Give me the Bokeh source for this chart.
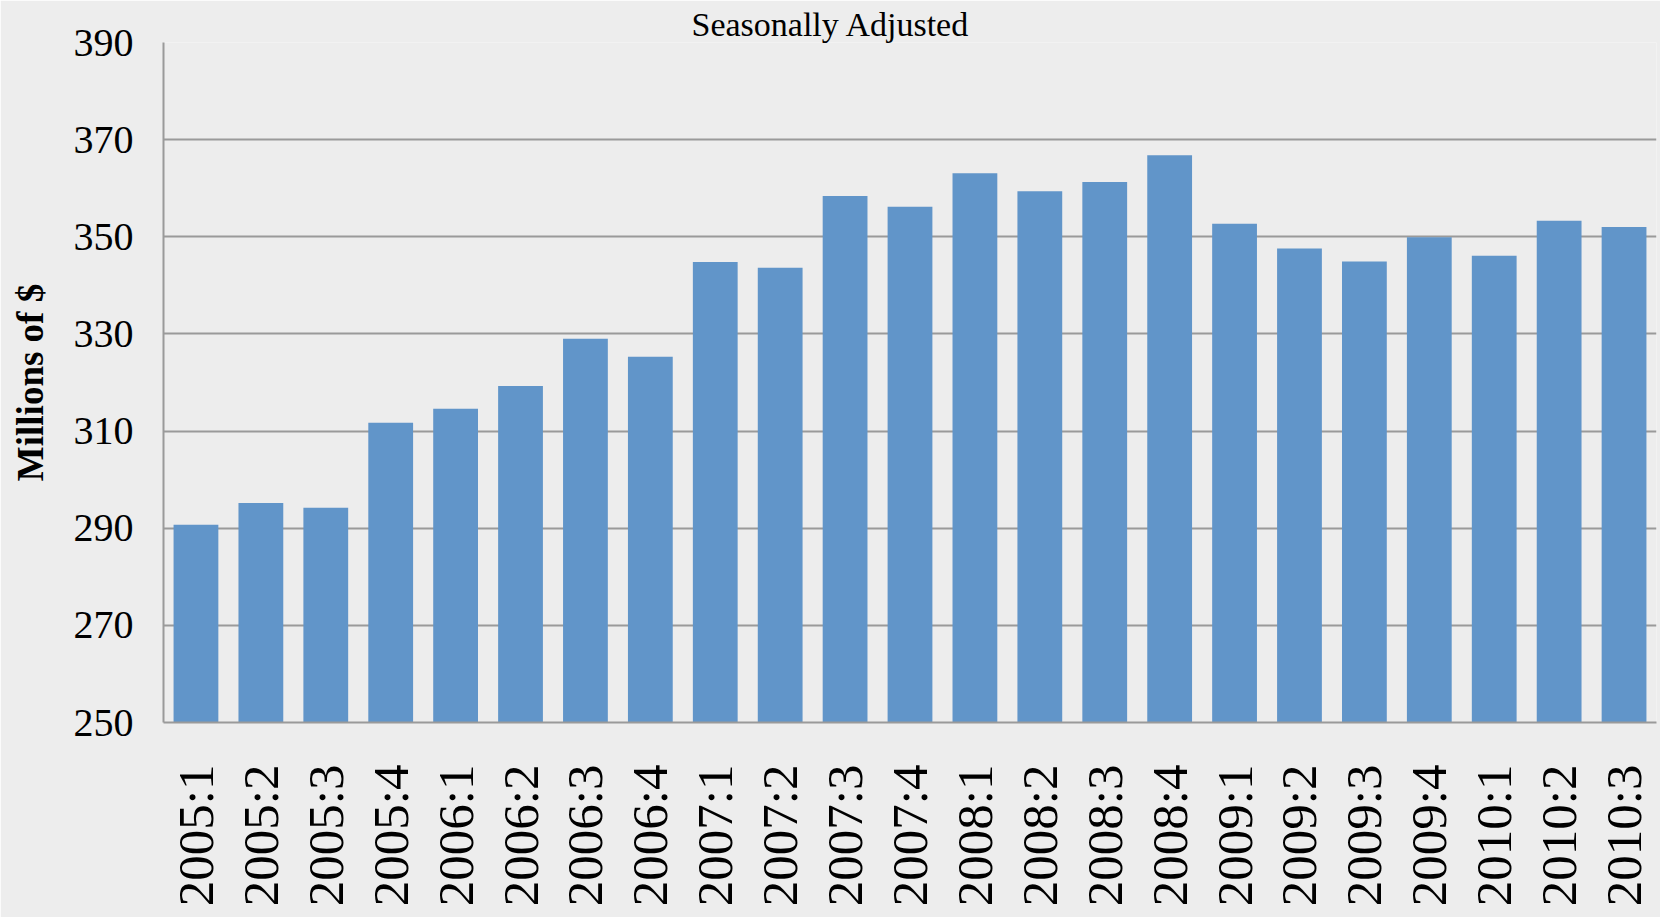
from bokeh.plotting import figure
from bokeh.models import FactorRange, Range1d, FixedTicker
from bokeh.embed import file_html
from bokeh.resources import INLINE
import math

quarters = ["2005:1", "2005:2", "2005:3", "2005:4",
            "2006:1", "2006:2", "2006:3", "2006:4",
            "2007:1", "2007:2", "2007:3", "2007:4",
            "2008:1", "2008:2", "2008:3", "2008:4",
            "2009:1", "2009:2", "2009:3", "2009:4",
            "2010:1", "2010:2", "2010:3"]
values = [290.7, 295.2, 294.2, 311.7,
          314.6, 319.3, 329.0, 325.3,
          344.8, 343.6, 358.4, 356.2,
          363.1, 359.4, 361.3, 366.8,
          352.7, 347.6, 344.9, 349.9,
          346.1, 353.3, 352.0]
y_ticks = [250, 270, 290, 310, 330, 350, 370, 390]
title_text = "Seasonally Adjusted"
y_label = "Millions of $"

BG = "#ededed"
SERIF = "Liberation Serif"

p = figure(width=1660, height=917,
           x_range=FactorRange(factors=quarters, range_padding=0),
           y_range=Range1d(250, 390),
           output_backend="svg", toolbar_location=None,
           min_border_left=163, min_border_right=4,
           min_border_top=42, min_border_bottom=195,
           background_fill_color=BG, border_fill_color=BG,
           outline_line_color=None)

p.vbar(x=quarters, top=values, bottom=250, width=0.69,
       fill_color="#6195c9", line_color=None)

p.title.text = title_text
p.title.text_font = SERIF
p.title.text_font_size = "34px"
p.title.text_font_style = "normal"
p.title.align = "left"
p.title.offset = 528
p.title.standoff = 0
p.title.text_color = "black"

# grid
p.xgrid.grid_line_color = None
p.ygrid.ticker = FixedTicker(ticks=y_ticks)
p.ygrid.grid_line_color = "#9a9a9a"
p.ygrid.grid_line_width = 2

# y axis
p.yaxis.ticker = FixedTicker(ticks=y_ticks)
p.yaxis.axis_line_color = "#9a9a9a"
p.yaxis.axis_line_width = 2
p.yaxis.major_tick_line_color = None
p.yaxis.minor_tick_line_color = None
p.yaxis.major_tick_out = 0
p.yaxis.major_tick_in = 0
p.yaxis.major_label_standoff = 30
p.yaxis.major_label_text_font = SERIF
p.yaxis.major_label_text_font_size = "40px"
p.yaxis.major_label_text_color = "black"
p.yaxis.axis_label = y_label
p.yaxis.axis_label_text_font = SERIF
p.yaxis.axis_label_text_font_size = "37px"
p.yaxis.axis_label_text_font_style = "bold"
p.yaxis.axis_label_text_color = "black"
p.yaxis.axis_label_standoff = 20

# x axis
p.xaxis.axis_line_color = "#9a9a9a"
p.xaxis.axis_line_width = 2
p.xaxis.major_tick_line_color = None
p.xaxis.minor_tick_line_color = None
p.xaxis.major_tick_out = 0
p.xaxis.major_tick_in = 0
p.xaxis.major_label_standoff = 42
p.xaxis.major_label_orientation = math.pi / 2
p.xaxis.major_label_text_font = SERIF
p.xaxis.major_label_text_font_size = "51px"
p.xaxis.major_label_text_color = "black"

open("out.html", "w").write(file_html(p, INLINE))
